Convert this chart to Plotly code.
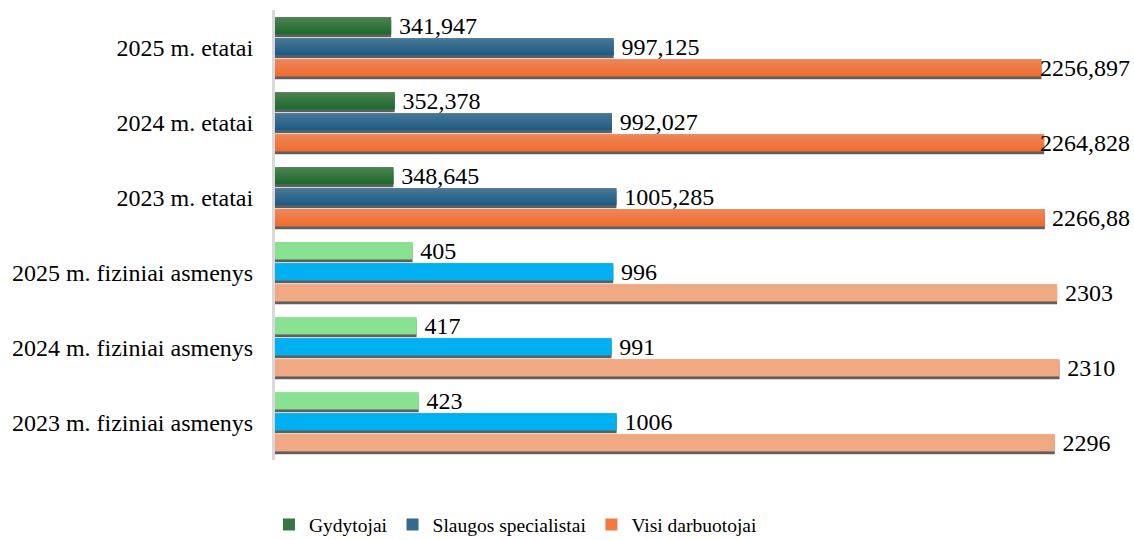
import plotly.graph_objects as go

# Categories in reading order, top to bottom.
categories = [
    "2025 m. etatai",
    "2024 m. etatai",
    "2023 m. etatai",
    "2025 m. fiziniai asmenys",
    "2024 m. fiziniai asmenys",
    "2023 m. fiziniai asmenys",
]
gydytojai = [341.947, 352.378, 348.645, 405, 417, 423]
slaugos = [997.125, 992.027, 1005.285, 996, 991, 1006]
visi = [2256.897, 2264.828, 2266.88, 2303, 2310, 2296]
is_fte = [True, True, True, False, False, False]

FONT = "Times New Roman, Liberation Serif, serif"
SHADOW = "#5f5f5f"
BAR_W = 0.227
N_STRIPS = 8
CAT_PX = 75  # pixels per category on the y axis (450 px / 6)

# name, values, offset (category units, axis reversed), FTE gradient top/bottom, flat colour for head count rows
series = [
    ("Gydytojai", gydytojai, -0.405, ("#538357", "#19692a"), "#88e291"),
    ("Slaugos specialistai", slaugos, -0.125, ("#4e7998", "#1a5b83"), "#00b0f0"),
    ("Visi darbuotojai", visi, 0.155, ("#ee885e", "#f06c2b"), "#f0a982"),
]


def _hex(c):
    return tuple(int(c[i:i + 2], 16) for i in (1, 3, 5))


def _mix(a, b, t):
    a, b = _hex(a), _hex(b)
    return "rgb({},{},{})".format(*[round(a[i] + (b[i] - a[i]) * t) for i in range(3)])


def _label(v):
    return str(v).replace(".", ",")


fig = go.Figure()
annotations = []

for name, vals, off, (top, bottom), flat in series:
    mid = _mix(top, bottom, 0.5)
    # Long labels on the FTE "Visi" bars would run off the page; like the
    # original, they get pushed back inside and right-aligned to the edge.
    pushed = [name == "Visi darbuotojai" and f for f in is_fte]
    # drop shadow
    fig.add_trace(go.Bar(
        y=categories, x=vals, orientation="h",
        offset=off + 0.04, width=BAR_W,
        marker=dict(color=SHADOW, line=dict(width=0)),
        showlegend=False, hoverinfo="skip",
    ))
    # main bar carries the outside labels (thin space = a bit more gap)
    fig.add_trace(go.Bar(
        y=categories, x=vals, orientation="h", name=name,
        offset=off, width=BAR_W,
        marker=dict(color=[mid if f else flat for f in is_fte], line=dict(width=0)),
        text=["" if p else "\u2009" + _label(v) for v, p in zip(vals, pushed)],
        textposition="outside",
        constraintext="none",
        cliponaxis=False,
        textfont=dict(family=FONT, size=24, color="#000000"),
        showlegend=False,
    ))
    # vertical gradient strips
    sw = BAR_W / N_STRIPS
    for k in range(N_STRIPS):
        t = (k + 0.5) / N_STRIPS
        c = _mix(top, bottom, t)
        fig.add_trace(go.Bar(
            y=categories, x=vals, orientation="h",
            offset=off + k * sw, width=sw * 1.02,
            marker=dict(color=[c if f else flat for f in is_fte], line=dict(width=0)),
            showlegend=False, hoverinfo="skip",
        ))
    for cat, v, p in zip(categories, vals, pushed):
        if p:
            annotations.append(dict(
                x=1.01, xref="paper", xanchor="right",
                y=cat, yref="y", yanchor="middle",
                yshift=-(off + BAR_W / 2) * CAT_PX,
                text=_label(v), showarrow=False,
                font=dict(family=FONT, size=24, color="#000000"),
            ))
    # legend entry
    fig.add_trace(go.Bar(
        y=[None], x=[None], orientation="h", name=name,
        marker=dict(color=mid, line=dict(width=0)),
        showlegend=True,
    ))

fig.update_layout(
    width=1134, height=540,
    barmode="overlay",
    margin=dict(l=275, r=10, t=10, b=80, autoexpand=False),
    plot_bgcolor="#ffffff",
    paper_bgcolor="#ffffff",
    font=dict(family=FONT, size=24, color="#000000"),
    xaxis=dict(
        range=[0, 2500], automargin=False,
        showgrid=False, zeroline=False, showticklabels=False, ticks="",
    ),
    yaxis=dict(
        autorange="reversed", automargin=False,
        showgrid=False, zeroline=False,
        showline=True, linecolor="#d9d9d9", linewidth=3,
        ticks="", ticklabelstandoff=14,
        tickfont=dict(family=FONT, size=24, color="#000000"),
    ),
    legend=dict(
        orientation="h",
        xref="container", x=0.455, xanchor="center",
        yref="container", y=0.028, yanchor="middle",
        font=dict(family=FONT, size=19.5, color="#000000"),
        itemwidth=30,
    ),
    annotations=annotations,
    showlegend=True,
)

# the page body keeps its default 8px margin otherwise
fig.write_html(
    "out.html",
    config={"displayModeBar": False},
    post_script="document.body.style.margin='0';",
)
